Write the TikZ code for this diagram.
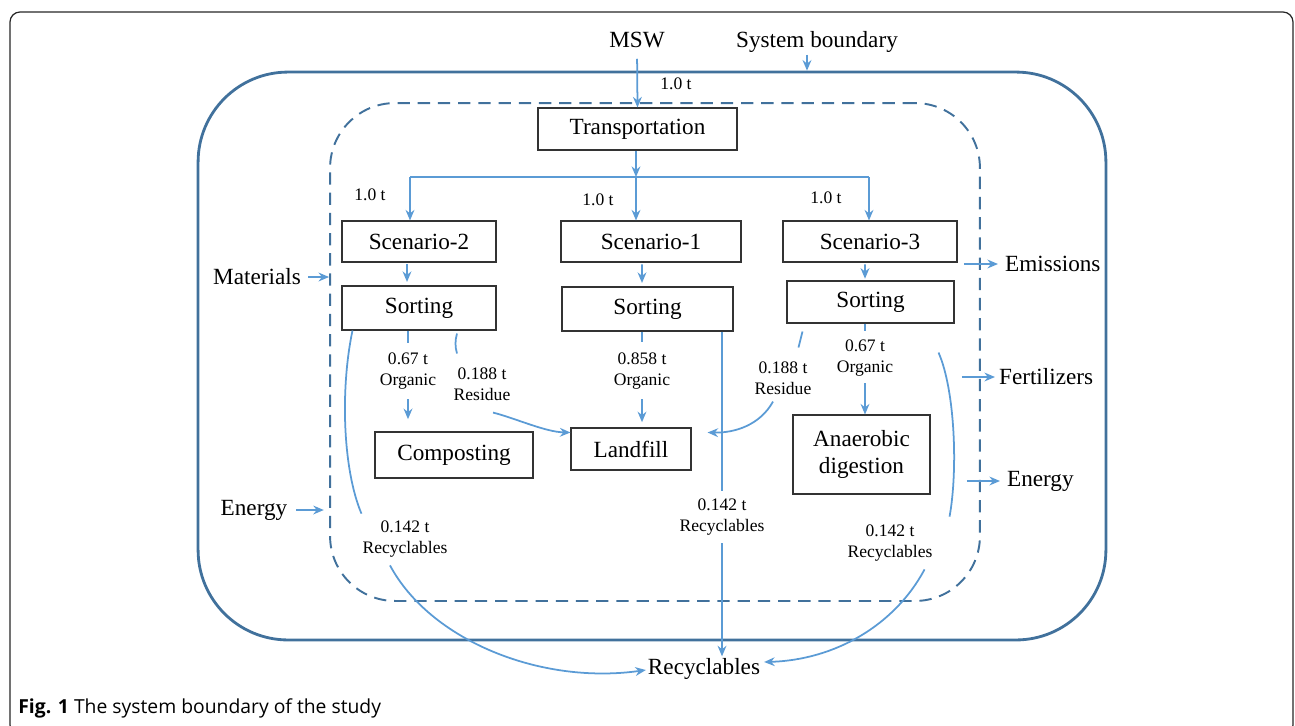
\documentclass[tikz,border=0pt]{standalone}
\usepackage{fontspec}
\setmainfont{Liberation Serif}
\newfontfamily\capfont{Open Sans}
\usetikzlibrary{arrows.meta, positioning, calc}
\definecolor{bndblue}{RGB}{65,113,156}
\definecolor{flowblue}{RGB}{91,155,213}

\begin{document}
\begin{tikzpicture}[x=0.02cm, y=-0.02cm,
  procbox/.style={draw=black!80, line width=0.6pt, minimum height=0.84cm, font=\fontsize{13.2}{15.3}\selectfont, align=center},
  qty/.style={font=\fontsize{10}{12}\selectfont, align=center, inner sep=1pt},
  side/.style={font=\fontsize{13.2}{15}\selectfont, inner sep=1pt},
  flow/.style={draw=flowblue, line width=1pt, -{Stealth[length=6pt, width=5pt]}},
  flowline/.style={draw=flowblue, line width=1pt}]
\useasboundingbox (0,0) rectangle (1295,725);

% frame and caption
\draw[black!85, line width=0.7pt, rounded corners=0.2cm] (10,12) rectangle (1293,735);
\node[anchor=base west, inner sep=0pt, font=\capfont\fontsize{11}{13}\selectfont] (cap) at (18,713) {\textbf{Fig. 1} The system boundary of the study};

% boundaries
\node[draw=bndblue, line width=1.6pt, rounded corners=1.8cm, minimum width=18.16cm, minimum height=11.36cm] (outer) at (652,356) {};
\node[draw=bndblue, line width=1.1pt, dash pattern=on 7pt off 4.5pt, rounded corners=1.3cm, minimum width=13cm, minimum height=9.96cm] (inner) at (655,352) {};

% input
\node[side] (msw) at (637,40) {MSW};
\node[side] (sysb) at (817,42) {System boundary};
\node[procbox, minimum width=3.98cm] (trans) at (637.5,129) {Transportation};
\node[qty] (q0) at (676,84) {1.0 t};
\draw[flow, shorten <=5pt] (msw.south) -- (trans.north);
\coordinate (sbtop) at ($(sysb.south)+(-10,0)$);
\draw[flow] (sbtop) -- (sbtop |- outer.north);

% split to the scenarios
\coordinate (split) at (636,177);
\coordinate (jl) at (410,177);
\coordinate (jr) at (869,177);
\draw[flow] (trans.south -| split) -- (split);
\draw[flowline] (jl) -- (jr);

\node[procbox, minimum width=3.08cm, minimum height=0.82cm] (sc2) at (419,241.5) {Scenario-2};
\node[procbox, minimum width=3.6cm, minimum height=0.82cm] (sc1) at (651,241.5) {Scenario-1};
\node[procbox, minimum width=3.48cm, minimum height=0.82cm] (sc3) at (870,241.5) {Scenario-3};
\draw[flow] (jl) -- (jl |- sc2.north);
\draw[flow] (split) -- (split |- sc1.north);
\draw[flow] (jr) -- (jr |- sc3.north);
\node[qty] (q2) at (370,195) {1.0 t};
\node[qty] (q1) at (598,200) {1.0 t};
\node[qty] (q3) at (826,198) {1.0 t};

% sorting
\node[procbox, minimum width=3.08cm, minimum height=0.88cm] (sort2) at (419,308) {Sorting};
\node[procbox, minimum width=3.42cm, minimum height=0.88cm] (sort1) at (647.5,309) {Sorting};
\node[procbox, minimum width=3.34cm, minimum height=0.84cm] (sort3) at (870.5,302) {Sorting};
\draw[flow, shorten <=1pt, shorten >=2pt] ([xshift=-0.24cm]sc2.south) -- ([xshift=-0.24cm]sort2.north);
\draw[flow, shorten <=1pt, shorten >=2pt] ([xshift=-0.18cm]sc1.south) -- ([xshift=-0.11cm]sort1.north);
\draw[flow, shorten <=1pt, shorten >=1pt] ([xshift=-0.1cm]sc3.south) -- ([xshift=-0.11cm]sort3.north);

% treatment
\node[procbox, minimum width=3.16cm, minimum height=0.92cm] (comp) at (454,455) {Composting};
\node[procbox, minimum width=2.4cm] (land) at (631,449) {Landfill};
\node[procbox, minimum width=2.74cm, minimum height=1.58cm] (ad) at (861.5,454.5) {Anaerobic\\digestion};
\node[side] (recy) at (704,669) {Recyclables};

% organic streams
\node[qty] (org2) at (408,371) {0.67 t\\Organic};
\node[qty] (org1) at (642,371) {0.858 t\\Organic};
\node[qty] (org3) at (865,358) {0.67 t\\Organic};
\draw[flowline] (org2.north |- sort2.south) -- ++(0,12);
\draw[flow, shorten >=7pt] ([yshift=-0.16cm]org2.south) -- (org2.south |- comp.north);
\draw[flowline] (org1.north |- sort1.south) -- ++(0,10);
\draw[flow, shorten >=3pt] ([yshift=-0.16cm]org1.south) -- (org1.south |- land.north);
\draw[flowline] (org3.north |- sort3.south) -- ++(0,7);
\draw[flow] ([yshift=-0.1cm]org3.south) -- (org3.south |- ad.north);

% residue streams
\node[qty] (res2) at (482,384) {0.188 t\\Residue};
\node[qty] (res3) at (783,378) {0.188 t\\Residue};
\draw[flowline] ($(sort2.south)+(38,3)$) .. controls ($(sort2.south)+(36,10)$) and ($(sort2.south)+(36,16)$) .. ($(sort2.south)+(38,23)$);
\draw[flow] ($(res2.south)+(11,10)$) .. controls (515,418) and (545,432) .. ($(land.north west)+(0,5)$);
\draw[flowline] ($(sort3.south west)+(16,8)$) -- ($(sort3.south west)+(12,24)$);
\draw[flow] ($(res3.south)+(-10,5)$) .. controls (760,425) and (735,433) .. ($(land.north east)+(16,5)$);

% recyclables streams
\node[qty] (rec2) at (405,539) {0.142 t\\Recyclables};
\node[qty] (rec1) at (722,517) {0.142 t\\Recyclables};
\node[qty] (rec3) at (890,543) {0.142 t\\Recyclables};
\draw[flowline] ($(sort2.south west)+(11,0)$) .. controls (340,390) and (343,470) .. ($(rec2.north west)+(1,-5)$);
\draw[flow] ($(rec2.south)+(-15,6)$) .. controls (430,640) and (540,685) .. ($(recy.west)+(0,1)$);
\draw[flowline] (rec1.north |- sort1.south) -- ([yshift=0.12cm]rec1.north);
\draw[flow] ([yshift=-0.12cm]rec1.south) -- (rec1.south |- recy.north);
\draw[flowline] ($(sort3.south east)+(-16,29)$) .. controls (955,390) and (958,470) .. ($(rec3.north east)+(15,-6)$);
\draw[flow] ($(rec3.south east)+(-10,6)$) .. controls (895,625) and (835,660) .. ($(recy.east)+(2,-7)$);

% exchanges across the boundary
\node[side] (mat) at (257,277) {Materials};
\node[side] (enl) at (254,510) {Energy};
\draw[flow, shorten <=3pt] (mat.east) -- (mat.east -| inner.west);
\draw[flow, shorten <=4pt, shorten >=3pt] (enl.east) -- (enl.east -| inner.west);
\node[side, anchor=west] (emis) at (1003,264) {Emissions};
\node[side, anchor=west] (fert) at (997,377) {Fertilizers};
\node[side, anchor=west] (enr) at (1005,481) {Energy};
\draw[flow] ($(inner.east |- emis.west)+(-17,0)$) -- ($(emis.west)+(-5,0)$);
\draw[flow] ($(inner.east |- fert.west)+(-19,0)$) -- ($(fert.west)+(-2,0)$);
\draw[flow] ($(inner.east |- enr.west)+(-14,0)$) -- ($(enr.west)+(-5,0)$);
\end{tikzpicture}
\end{document}
